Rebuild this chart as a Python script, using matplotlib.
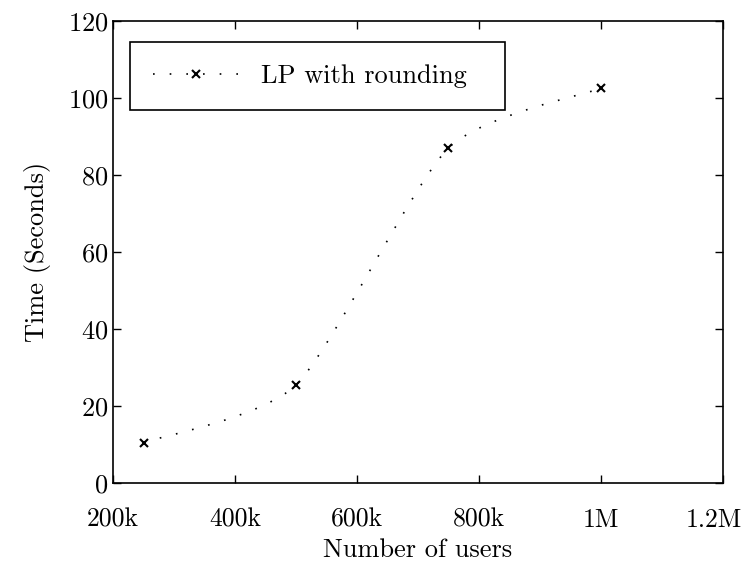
#!/usr/bin/env python3
import matplotlib
matplotlib.use("Agg")
import matplotlib.pyplot as plt
import matplotlib.transforms as mtransforms
from matplotlib.path import Path
from matplotlib.patches import PathPatch
from matplotlib.lines import Line2D
import numpy as np

users = [250e3, 500e3, 750e3, 1000e3]
times = [10.5, 25.5, 87.0, 102.5]
xtick_vals = [200e3, 400e3, 600e3, 800e3, 1000e3, 1200e3]
xtick_labels = ['200k', '400k', '600k', '800k', '1M', '1.2M']
label = 'LP with rounding'

plt.rcParams['font.family'] = ['cmr10', 'DejaVu Serif']
plt.rcParams['mathtext.fontset'] = 'cm'
plt.rcParams['axes.formatter.use_mathtext'] = True

fig = plt.figure(figsize=(7.45, 5.68), dpi=100)
ax = fig.add_axes([0.152, 0.1496, 0.818, 0.8134])

# smooth curve through the points (cardinal spline as cubic bezier segments)
x = np.array(users)
y = np.array(times)
n = len(x)
k = 1 / 9
verts = [(x[0], y[0])]
codes = [Path.MOVETO]
for i in range(n - 1):
    i0 = max(i - 1, 0)
    i3 = min(i + 2, n - 1)
    c1 = (x[i] + (x[i + 1] - x[i0]) * k, y[i] + (y[i + 1] - y[i0]) * k)
    c2 = (x[i + 1] - (x[i3] - x[i]) * k, y[i + 1] - (y[i3] - y[i]) * k)
    verts += [c1, c2, (x[i + 1], y[i + 1])]
    codes += [Path.CURVE4] * 3
patch = PathPatch(Path(verts, codes), facecolor='none', edgecolor='black',
                  lw=1.2, linestyle=(0, (1, 9)))
ax.add_patch(patch)
ax.plot(users, times, linestyle='none', marker='x', color='black',
        markersize=6, markeredgewidth=1.5)

ax.set_xlim(200e3, 1200e3)
ax.set_ylim(0, 120)
ax.set_xticks(xtick_vals)
ax.set_xticklabels(xtick_labels)
ax.set_yticks([0, 20, 40, 60, 80, 100, 120])
ax.tick_params(direction='in', top=True, right=True, labelsize=19, length=6,
               width=1)
ax.tick_params(axis='x', pad=18, labelsize=18.5)
for s in ax.spines.values():
    s.set_linewidth(1.2)
ax.set_xlabel('Number of users', fontsize=19, labelpad=5)
ax.set_ylabel('Time (Seconds)', fontsize=19, labelpad=12)

# keep the last tick label inside the figure
last = ax.get_xticklabels()[-1]
last.set_transform(last.get_transform() +
                   mtransforms.ScaledTranslation(-6 / 72, 0, fig.dpi_scale_trans))

handle = Line2D([], [], color='black', lw=1.2, linestyle=(0, (1, 9)),
                marker='x', markersize=6, markeredgewidth=1.5)
leg = ax.legend([handle], [label], loc='upper left', fontsize=19,
                numpoints=1, handlelength=3.3, fancybox=False,
                edgecolor='black', framealpha=1, borderpad=0.85,
                mode='expand', borderaxespad=0,
                bbox_to_anchor=(0.028, 0.5, 0.615, 0.455))
leg.get_frame().set_linewidth(1.2)

fig.savefig('out.png', dpi=100)
